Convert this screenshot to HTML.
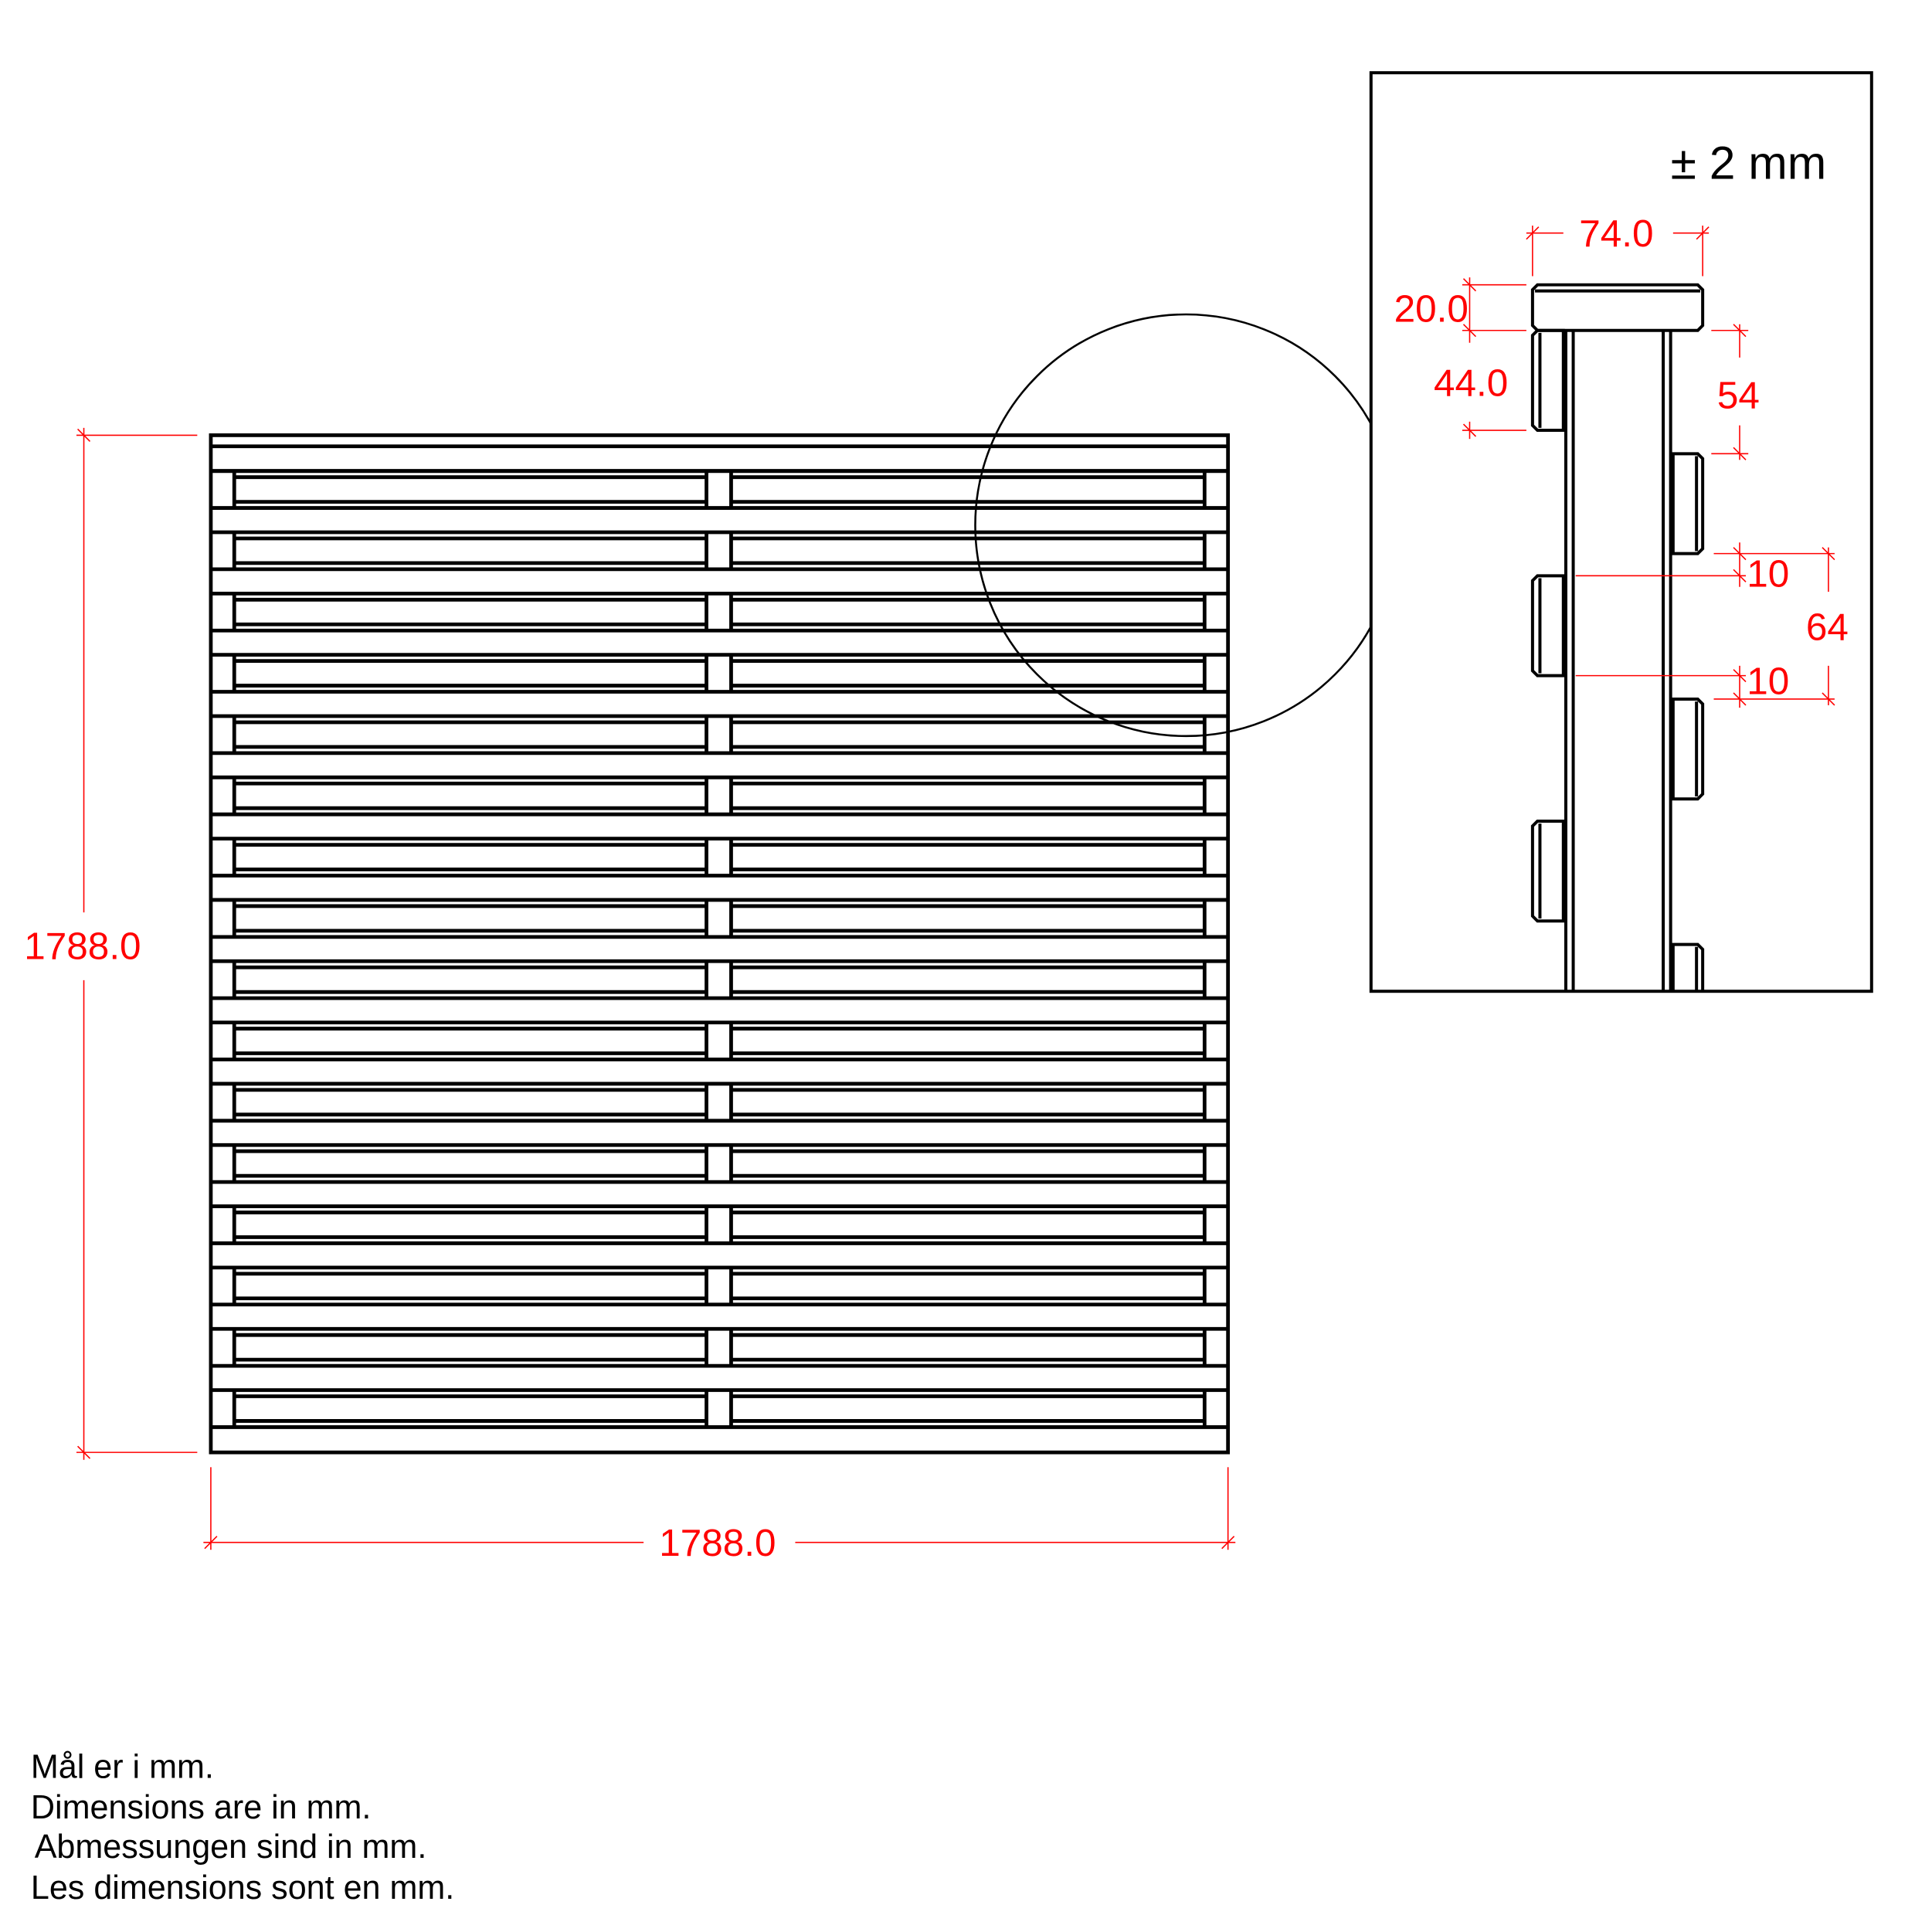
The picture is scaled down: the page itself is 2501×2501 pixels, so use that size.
<!DOCTYPE html>
<html><head><meta charset="utf-8"><style>
html,body{margin:0;padding:0;background:#fff}
svg{display:block}
text{font-family:"Liberation Sans",sans-serif}
</style></head><body>
<svg width="2501" height="2501" viewBox="0 0 1567 1567" xmlns="http://www.w3.org/2000/svg">
<rect width="1567" height="1567" fill="#fff"/>
<g fill="none" stroke="#000" stroke-width="3">
<rect x="171" y="353" width="825" height="825"/>
<line x1="171" y1="362" x2="996" y2="362"/>
<line x1="171" y1="382" x2="996" y2="382"/>
</g>
<circle cx="962" cy="426" r="171" fill="none" stroke="#000" stroke-width="1.6"/>
<g stroke="#f00" stroke-width="1" fill="none">
<line x1="62" y1="353" x2="160" y2="353"/>
<line x1="62" y1="1178" x2="160" y2="1178"/>
<line x1="68" y1="347" x2="68" y2="740"/>
<line x1="68" y1="795" x2="68" y2="1184"/>
<line x1="63" y1="348" x2="73" y2="358"/>
<line x1="63" y1="1173" x2="73" y2="1183"/>
<line x1="171" y1="1190" x2="171" y2="1257"/>
<line x1="996" y1="1190" x2="996" y2="1257"/>
<line x1="165" y1="1251" x2="522" y2="1251"/>
<line x1="645" y1="1251" x2="1002" y2="1251"/>
<line x1="166" y1="1256" x2="176" y2="1246"/>
<line x1="991" y1="1256" x2="1001" y2="1246"/>
</g>
<text x="67" y="778" font-size="31" fill="#f00" text-anchor="middle">1788.0</text>
<text x="582" y="1262" font-size="31" fill="#f00" text-anchor="middle">1788.0</text>
<rect x="1112" y="59" width="406" height="745" fill="#fff" stroke="#000" stroke-width="2.5"/>
<text x="1355" y="145" font-size="38" fill="#000">± 2 mm</text>
<g fill="none" stroke="#000" stroke-width="2.5">
<path d="M1247,231 H1377 L1381,235 V264 L1377,268 H1247 L1243,264 V235 Z"/>
<line x1="1245" y1="236" x2="1379" y2="236"/>
<line x1="1270" y1="268" x2="1270" y2="804"/>
<line x1="1276" y1="268" x2="1276" y2="804"/>
<line x1="1349" y1="268" x2="1349" y2="804"/>
<line x1="1355" y1="268" x2="1355" y2="804"/>
<path d="M1247,268 H1268 V349 H1247 L1243,345 V272 Z"/><line x1="1249" y1="270" x2="1249" y2="347"/>
<path d="M1247,467 H1268 V548 H1247 L1243,544 V471 Z"/><line x1="1249" y1="469" x2="1249" y2="546"/>
<path d="M1247,666 H1268 V747 H1247 L1243,743 V670 Z"/><line x1="1249" y1="668" x2="1249" y2="745"/>
<path d="M1357,368 H1377 L1381,372 V445 L1377,449 H1357 Z"/><line x1="1376" y1="370" x2="1376" y2="447"/>
<path d="M1357,567 H1377 L1381,571 V644 L1377,648 H1357 Z"/><line x1="1376" y1="569" x2="1376" y2="646"/>
<path d="M1357,804 V766 H1377 L1381,770 V804"/><line x1="1376" y1="768" x2="1376" y2="804"/>
</g>
<g stroke="#f00" stroke-width="1" fill="none">
<line x1="1238" y1="189" x2="1268" y2="189"/><line x1="1357" y1="189" x2="1386" y2="189"/>
<line x1="1243" y1="183" x2="1243" y2="224"/><line x1="1381" y1="183" x2="1381" y2="224"/>
<line x1="1238" y1="194" x2="1248" y2="184"/><line x1="1376" y1="194" x2="1386" y2="184"/>
<line x1="1186" y1="231" x2="1238" y2="231"/><line x1="1186" y1="268" x2="1238" y2="268"/>
<line x1="1186" y1="349" x2="1238" y2="349"/>
<line x1="1192" y1="225" x2="1192" y2="278"/><line x1="1192" y1="342" x2="1192" y2="356"/>
<line x1="1187" y1="226" x2="1197" y2="236"/><line x1="1187" y1="263" x2="1197" y2="273"/><line x1="1187" y1="344" x2="1197" y2="354"/>
<line x1="1388" y1="268" x2="1418" y2="268"/><line x1="1388" y1="368" x2="1418" y2="368"/>
<line x1="1411" y1="263" x2="1411" y2="290"/><line x1="1411" y1="345" x2="1411" y2="373"/>
<line x1="1406" y1="263" x2="1416" y2="273"/><line x1="1406" y1="363" x2="1416" y2="373"/>
<line x1="1390" y1="449" x2="1488" y2="449"/><line x1="1278" y1="467" x2="1416" y2="467"/>
<line x1="1278" y1="548" x2="1416" y2="548"/><line x1="1390" y1="567" x2="1488" y2="567"/>
<line x1="1411" y1="440" x2="1411" y2="476"/><line x1="1411" y1="540" x2="1411" y2="574"/>
<line x1="1483" y1="444" x2="1483" y2="480"/><line x1="1483" y1="540" x2="1483" y2="572"/>
<line x1="1406" y1="444" x2="1416" y2="454"/><line x1="1406" y1="462" x2="1416" y2="472"/>
<line x1="1406" y1="543" x2="1416" y2="553"/><line x1="1406" y1="562" x2="1416" y2="572"/>
<line x1="1478" y1="444" x2="1488" y2="454"/><line x1="1478" y1="562" x2="1488" y2="572"/>
</g>
<g font-size="31" fill="#f00">
<text x="1311" y="200" text-anchor="middle">74.0</text>
<text x="1191" y="261" text-anchor="end">20.0</text>
<text x="1193" y="321" text-anchor="middle">44.0</text>
<text x="1410" y="331" text-anchor="middle">54</text>
<text x="1434" y="476" text-anchor="middle">10</text>
<text x="1434" y="563" text-anchor="middle">10</text>
<text x="1482" y="519" text-anchor="middle">64</text>
</g>
<g font-size="27" fill="#000">
<text x="25" y="1442">Mål er i mm.</text>
<text x="25" y="1475">Dimensions are in mm.</text>
<text x="28" y="1507">Abmessungen sind in mm.</text>
<text x="25" y="1540">Les dimensions sont en mm.</text>
</g>
<g fill="none" stroke="#000" stroke-width="3">
<path d="
M171,382 H996 M171,412 H996 M190,382 V412 M573,382 V412 M593,382 V412 M977,382 V412 M190,387 H573 M190,407 H573 M593,387 H977 M593,407 H977
M171,431.7 H996 M171,461.7 H996 M190,431.7 V461.7 M573,431.7 V461.7 M593,431.7 V461.7 M977,431.7 V461.7 M190,436.7 H573 M190,456.7 H573 M593,436.7 H977 M593,456.7 H977
M171,481.4 H996 M171,511.4 H996 M190,481.4 V511.4 M573,481.4 V511.4 M593,481.4 V511.4 M977,481.4 V511.4 M190,486.4 H573 M190,506.4 H573 M593,486.4 H977 M593,506.4 H977
M171,531.1 H996 M171,561.1 H996 M190,531.1 V561.1 M573,531.1 V561.1 M593,531.1 V561.1 M977,531.1 V561.1 M190,536.1 H573 M190,556.1 H573 M593,536.1 H977 M593,556.1 H977
M171,580.8 H996 M171,610.8 H996 M190,580.8 V610.8 M573,580.8 V610.8 M593,580.8 V610.8 M977,580.8 V610.8 M190,585.8 H573 M190,605.8 H573 M593,585.8 H977 M593,605.8 H977
M171,630.5 H996 M171,660.5 H996 M190,630.5 V660.5 M573,630.5 V660.5 M593,630.5 V660.5 M977,630.5 V660.5 M190,635.5 H573 M190,655.5 H573 M593,635.5 H977 M593,655.5 H977
M171,680.2 H996 M171,710.2 H996 M190,680.2 V710.2 M573,680.2 V710.2 M593,680.2 V710.2 M977,680.2 V710.2 M190,685.2 H573 M190,705.2 H573 M593,685.2 H977 M593,705.2 H977
M171,729.9 H996 M171,759.9 H996 M190,729.9 V759.9 M573,729.9 V759.9 M593,729.9 V759.9 M977,729.9 V759.9 M190,734.9 H573 M190,754.9 H573 M593,734.9 H977 M593,754.9 H977
M171,779.6 H996 M171,809.6 H996 M190,779.6 V809.6 M573,779.6 V809.6 M593,779.6 V809.6 M977,779.6 V809.6 M190,784.6 H573 M190,804.6 H573 M593,784.6 H977 M593,804.6 H977
M171,829.3 H996 M171,859.3 H996 M190,829.3 V859.3 M573,829.3 V859.3 M593,829.3 V859.3 M977,829.3 V859.3 M190,834.3 H573 M190,854.3 H573 M593,834.3 H977 M593,854.3 H977
M171,879 H996 M171,909 H996 M190,879 V909 M573,879 V909 M593,879 V909 M977,879 V909 M190,884 H573 M190,904 H573 M593,884 H977 M593,904 H977
M171,928.7 H996 M171,958.7 H996 M190,928.7 V958.7 M573,928.7 V958.7 M593,928.7 V958.7 M977,928.7 V958.7 M190,933.7 H573 M190,953.7 H573 M593,933.7 H977 M593,953.7 H977
M171,978.4 H996 M171,1008.4 H996 M190,978.4 V1008.4 M573,978.4 V1008.4 M593,978.4 V1008.4 M977,978.4 V1008.4 M190,983.4 H573 M190,1003.4 H573 M593,983.4 H977 M593,1003.4 H977
M171,1028.1 H996 M171,1058.1 H996 M190,1028.1 V1058.1 M573,1028.1 V1058.1 M593,1028.1 V1058.1 M977,1028.1 V1058.1 M190,1033.1 H573 M190,1053.1 H573 M593,1033.1 H977 M593,1053.1 H977
M171,1077.8 H996 M171,1107.8 H996 M190,1077.8 V1107.8 M573,1077.8 V1107.8 M593,1077.8 V1107.8 M977,1077.8 V1107.8 M190,1082.8 H573 M190,1102.8 H573 M593,1082.8 H977 M593,1102.8 H977
M171,1127.5 H996 M171,1157.5 H996 M190,1127.5 V1157.5 M573,1127.5 V1157.5 M593,1127.5 V1157.5 M977,1127.5 V1157.5 M190,1132.5 H573 M190,1152.5 H573 M593,1132.5 H977 M593,1152.5 H977
"/>
</g>
</svg>
</body></html>
